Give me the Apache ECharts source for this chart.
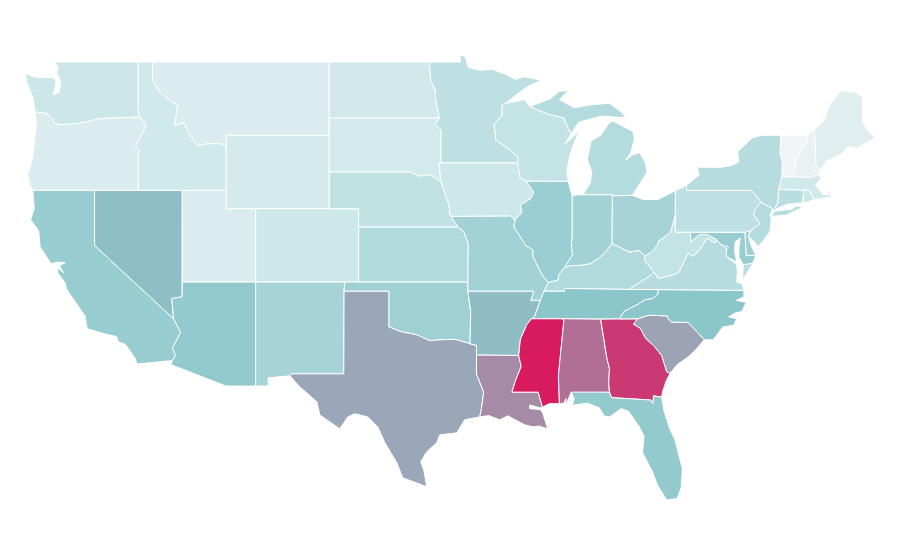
<!DOCTYPE html>
<html>
<head>
<meta charset="utf-8" />
<title>USA</title>
<script src="https://cdn.jsdelivr.net/npm/echarts@6/dist/echarts.min.js"></script>
<style>
html,body{margin:0;padding:0;background:#fff}
#main{width:900px;height:560px}
</style>
</head>
<body>
<div id="main"></div>
<script>
// values, one per state, same order
var stateNames = ['Washington','Oregon','California','Nevada','Idaho','Montana','Wyoming','Utah','Arizona','Colorado','New Mexico',
  'North Dakota','South Dakota','Nebraska','Kansas','Oklahoma','Texas','Minnesota','Iowa','Missouri','Arkansas','Louisiana',
  'Wisconsin','Illinois','Michigan','Indiana','Ohio','Kentucky','Tennessee','Mississippi','Alabama','Georgia','Florida',
  'South Carolina','North Carolina','Virginia','West Virginia','Maryland','District of Columbia','Delaware','Pennsylvania','New Jersey','New York',
  'Connecticut','Rhode Island','Massachusetts','Vermont','New Hampshire','Maine'];
var stateValues = [25,15,45,52,22,15,19,15,47,24,40,
  21,20,29,35,42,59,30,24,41,53,67,
  28,44,34,41,40,35,50,100,75,91,47,
  60,50,33,28,45,45,42,30,34,33,
  32,25,22,0,6,12];
var colorStops = ['#f3f4f6','#cbe7e8','#8bc6cb','#b26f95','#d81a5f'];

// shared borders in lon/lat, so that neighbours fit
var waCoast = [[-122.76,49],[-122.5,48.75],[-122.55,48.4],[-122.3,47.9],[-122.4,47.35],[-122.8,47.2],[-122.6,47.9],[-122.75,48.15],[-123.2,48.15],[-124,48.17],[-124.73,48.38],[-124.6,47.9],[-124.2,47.1],[-124.05,46.27]];
var columbia = [[-124.05,46.27],[-123.4,46.22],[-123.15,46.15],[-122.85,45.9],[-122.75,45.65],[-122.2,45.57],[-121.2,45.65],[-120.6,45.73],[-119.6,45.92],[-119,45.93],[-116.92,46]];
var snake = [[-116.92,46],[-116.46,45.6],[-116.85,44.95],[-117.22,44.4],[-116.95,44.2],[-117.03,43.8],[-117.03,42]];
var idMt = [[-116.05,49],[-116.05,48],[-115.7,47.45],[-114.9,46.9],[-114.35,46.65],[-114.55,45.55],[-113.95,45.7],[-113.45,44.95],[-113,44.45],[-112.3,44.55],[-111.5,44.55],[-111.05,44.47]];
var redNorth = [[-97.23,49],[-97.15,48],[-96.85,47.5],[-96.8,46.9],[-96.56,45.94]];
var sdMn = [[-96.56,45.94],[-96.85,45.6],[-96.45,45.3],[-96.45,43.5],[-96.6,43.5],[-96.45,42.49]];
var sdNe = [[-104.05,43],[-98.5,43],[-98,42.77],[-97.2,42.85],[-96.7,42.6],[-96.45,42.49]];
var neIa = [[-96.45,42.49],[-96.25,42],[-96.1,41.6],[-95.9,41.2],[-95.85,40.7],[-95.77,40.58]];
var neMo = [[-95.77,40.58],[-95.3,40]];
var moKs = [[-95.3,40],[-94.9,39.75],[-94.6,39.1],[-94.62,37]];
var superiorMn = [[-97.23,49],[-95.15,49],[-95.15,49.38],[-94.8,49.3],[-94.6,48.7],[-93.8,48.55],[-92.95,48.6],[-92,48.3],[-91.4,48.05],[-90.8,48.2],[-89.6,48],[-90.6,47.65],[-91.5,47.1],[-92.05,46.75]];
var mnWi = [[-92.05,46.75],[-92.3,46.65],[-92.3,46.1],[-92.85,45.6],[-92.75,45],[-92.75,44.75],[-91.9,44.3],[-91.25,43.85],[-91.22,43.5]];
var iaWi = [[-91.22,43.5],[-91.1,42.7],[-90.65,42.5]];
var iaIl = [[-90.65,42.5],[-90.15,41.9],[-90.35,41.55],[-91.05,41.2],[-90.95,40.8],[-91.42,40.38]];
var ilMo = [[-91.42,40.38],[-91.5,40],[-91,39.4],[-90.7,39],[-90.2,38.75],[-90.2,38.4],[-89.9,37.9],[-89.5,37.3],[-89.15,36.98]];
var wiMi = [[-90.42,46.57],[-89.1,46.13],[-88.1,45.95],[-87.8,45.35],[-87.6,45.1]];
var wiLake = [[-87.6,45.1],[-88,44.55],[-87.5,44.9],[-87.05,45.25],[-87.5,44.4],[-87.75,43.7],[-87.9,43],[-87.8,42.49]];
var ilLake = [[-87.8,42.49],[-87.6,41.85],[-87.53,41.7]];
var ilIn = [[-87.53,41.7],[-87.53,39.35],[-87.6,39],[-87.5,38.5],[-88.05,37.8]];
var ilKy = [[-88.05,37.8],[-88.45,37.4],[-88.5,37.1],[-89.15,36.98]];
var moKy = [[-89.15,36.98],[-89.45,36.5]];
var moTn = [[-89.45,36.5],[-89.7,36]];
var tnAr = [[-89.7,36],[-90.1,35.1],[-90.3,35]];
var arMs = [[-90.3,35],[-90.6,34.7],[-91.05,33.9],[-91.17,33]];
var laMs = [[-91.17,33],[-91,32.4],[-91.4,31.6],[-91.63,31],[-89.85,31],[-89.55,30.18]];
var inKy = [[-84.82,39.1],[-85.2,38.7],[-85.75,38.27],[-86.3,38],[-87,37.9],[-87.6,37.9],[-88.05,37.8]];
var ohKy = [[-82.6,38.42],[-83,38.72],[-83.65,38.63],[-84.2,38.85],[-84.82,39.1]];
var ohWv = [[-80.52,40.64],[-80.85,39.7],[-81.7,39.2],[-81.75,39],[-82.2,38.6],[-82.6,38.42]];
var kyWv = [[-82.6,38.42],[-82.6,38.17],[-81.97,37.54]];
var kyVa = [[-81.97,37.54],[-82.3,37.3],[-82.9,37],[-83.68,36.6]];
var vaWv = [[-77.72,39.32],[-77.83,39.14],[-78.35,39.4],[-78.87,38.77],[-79.3,38.42],[-79.65,38.57],[-80.3,37.52],[-80.85,37.35],[-81.68,37.2],[-81.97,37.54]];
var mdWv = [[-79.48,39.72],[-79.48,39.2],[-78.85,39.6],[-78.4,39.6],[-77.72,39.32]];
var potomac = [[-77.72,39.32],[-77.5,39.1],[-77.12,38.93],[-77.05,38.85],[-77.05,38.4]];
var paNj = [[-74.7,41.36],[-75.1,40.95],[-75.2,40.65],[-74.75,40.2],[-75.4,39.8]];
var nyNj = [[-74.7,41.36],[-73.9,41]];
var nyVt = [[-73.35,45.01],[-73.4,44],[-73.25,43.6],[-73.27,42.75]];
var nyMa = [[-73.27,42.75],[-73.5,42.05]];
var nyCt = [[-73.5,42.05],[-73.55,41.3],[-73.73,41.1],[-73.65,41]];
var vtNh = [[-71.5,45.01],[-71.6,44.5],[-72.05,44.1],[-72.3,43.7],[-72.45,43],[-72.46,42.73]];
var nhMe = [[-71.08,45.3],[-71,44.3],[-70.98,43.4],[-70.7,43.07]];
var maNorth = [[-72.46,42.73],[-71.3,42.7],[-70.82,42.87]];
var ctRi = [[-71.8,42.02],[-71.85,41.32]];
var riMa = [[-71.8,42.02],[-71.38,42.02],[-71.2,41.67],[-71.12,41.5]];
var tnNc = [[-81.68,36.59],[-81.7,36.35],[-82.05,36.1],[-82.6,36.03],[-83.1,35.77],[-84,35.4],[-84.32,34.99]];
var ncSc = [[-83.11,35],[-82.3,35.2],[-81.05,35.15],[-81.04,35.05],[-80.8,34.82],[-79.67,34.8],[-78.55,33.86]];
var gaSc = [[-83.11,35],[-83.35,34.7],[-82.9,34.48],[-82.55,33.95],[-81.95,33.5],[-81.45,33],[-81.1,32.1],[-80.88,32.03]];
var msAl = [[-88.2,35],[-88.1,34.9],[-88.47,31.9],[-88.4,30.37]];
var alGa = [[-85.6,34.98],[-85.18,32.87],[-85,32.3],[-85.05,31.5],[-85,31]];
var gaFl = [[-85,31],[-84.86,30.7],[-82.2,30.57],[-82.05,30.37],[-82,30.8],[-81.45,30.72]];
var alFl = [[-87.6,31],[-87.4,30.65],[-87.52,30.28]];
var redRiver = [[-100,34.56],[-99.2,34.3],[-98.1,34.13],[-97.2,33.8],[-96.6,33.85],[-95.5,33.88],[-94.48,33.64]];
var txAr = [[-94.48,33.64],[-94.04,33.55],[-94.04,33.02]];
var txLa = [[-94.04,33.02],[-94.04,32],[-93.55,31],[-93.7,30.1],[-93.82,29.65]];
var azCa = [[-114.72,32.72],[-114.5,33],[-114.7,33.4],[-114.15,34.25],[-114.63,35]];
var azNv = [[-114.63,35],[-114.75,36.1],[-114.05,36.2]];

function rev(a){ return a.slice().reverse(); }
function ring(){ return [].concat.apply([], arguments); }

var outlines = {
  'Washington': [ring(waCoast.slice(0,1),[[-117.04,49],[-117.04,46.42]],rev(columbia),rev(waCoast))],
  'Oregon': [ring(columbia,snake,[[-124.2,42],[-124.4,42.3],[-124.55,42.85],[-124.4,43.2],[-124.2,43.8],[-124.1,44.6],[-123.95,45.5]])],
  'California': [ring([[-124.2,42],[-120,42],[-120,39]],rev(azCa),[[-117.12,32.53],[-117.25,32.85],[-117.9,33.6],[-118.4,33.75],[-118.5,34.03],[-119.2,34.15],[-120.5,34.45],[-120.65,35.15],[-121.9,36.6],[-122,36.95],[-122.5,37.5],[-122.5,37.8],[-122.1,37.5],[-122.4,37.9],[-122,38.05],[-122.5,38.1],[-122.95,38],[-123.7,38.9],[-123.8,39.8],[-124.35,40.4],[-124.1,41]])],
  'Nevada': [ring([[-120,42],[-114.04,42]],rev(azNv),[[-120,39]])],
  'Idaho': [ring([[-117.04,49]],idMt,[[-111.05,42]],rev(snake),[[-117.04,46.42]])],
  'Montana': [ring(idMt.slice(0,1),[[-104.05,49],[-104.05,45],[-111.05,45]],rev(idMt))],
  'Wyoming': [[[-111.05,45],[-104.05,45],[-104.05,41],[-111.05,41]]],
  'Utah': [[[-114.04,42],[-111.05,42],[-111.05,41],[-109.05,41],[-109.05,37],[-114.04,37]]],
  'Arizona': [ring([[-114.04,37],[-109.05,37],[-109.05,31.33],[-111.07,31.33],[-114.8,32.5]],azCa,azNv)],
  'Colorado': [[[-109.05,41],[-102.05,41],[-102.05,37],[-109.05,37]]],
  'New Mexico': [[[-109.05,37],[-103,37],[-103.04,36.5],[-103.06,32],[-106.62,32],[-106.73,31.89],[-108.2,31.78],[-108.2,31.33],[-109.05,31.33]]],
  'North Dakota': [ring([[-104.05,49]],redNorth,[[-104.05,45.94]])],
  'South Dakota': [ring([[-104.05,45.94]],sdMn,rev(sdNe),[[-104.05,45]])],
  'Nebraska': [ring(sdNe,neIa,neMo,[[-102.05,40],[-102.05,41],[-104.05,41]])],
  'Kansas': [ring([[-102.05,40]],moKs,[[-102.05,37]])],
  'Oklahoma': [ring([[-103,37],[-94.62,37],[-94.62,36.5],[-94.43,35.4]],rev(redRiver),[[-100,36.5],[-103.04,36.5]])],
  'Texas': [ring([[-103.04,36.5],[-100,36.5]],redRiver,txAr,txLa,[[-94.84,29.49],[-95.38,28.78],[-96.54,28.67],[-96.74,28.24],[-97.42,27.75],[-97.83,27.2],[-97.63,26.77],[-97.42,25.84],[-99.05,26.33],[-99.46,27.16],[-100.27,28.25],[-100.75,29.1],[-101.43,29.65],[-102.31,29.82],[-102.79,29.65],[-103.33,29],[-104.69,29.76],[-104.89,30.47],[-106.05,31.29],[-106.73,31.89],[-106.62,32],[-103.06,32]])],
  'Minnesota': [ring(superiorMn,mnWi,[[-96.45,43.5]],rev(sdMn.slice(0,4)),rev(redNorth))],
  'Iowa': [ring([[-96.45,43.5],[-91.22,43.5]],iaWi,iaIl,[[-91.73,40.6]],rev(neIa),[[-96.6,43.5]])],
  'Missouri': [ring([[-95.77,40.58],[-91.73,40.6]],ilMo,moKy,moTn,[[-90.35,36],[-90.15,36.5],[-94.62,36.5]],rev(moKs),rev(neMo))],
  'Arkansas': [ring([[-94.62,36.5],[-90.15,36.5],[-90.35,36]],tnAr,arMs,[[-94.04,33.02]],rev(txAr),[[-94.43,35.4]])],
  'Louisiana': [ring(txLa.slice(0,1),[[-91.17,33]],laMs,[[-89.75,30.15],[-90.42,30.3],[-90.42,30.1],[-89.7,30.05],[-89.54,29.87],[-89.2,29],[-89.8,29.15],[-90.22,29.11],[-90.76,29.22],[-91.92,29.71],[-92.46,29.49],[-93.2,29.72]],rev(txLa))],
  'Wisconsin': [ring([[-92.05,46.75],[-91.2,46.87],[-90.75,46.95]],wiMi,wiLake,[[-90.65,42.5]],rev(iaWi),rev(mnWi))],
  'Illinois': [ring([[-90.65,42.5],[-87.8,42.49]],ilLake,ilIn,ilKy,rev(ilMo),rev(iaIl))],
  'Michigan': [
    ring([[-90.42,46.57],[-89,47],[-88.4,47.4],[-87.8,47.45],[-88.4,46.95],[-87.4,46.5],[-86.2,46.67],[-85,46.75],[-84.5,46.45],[-84.1,46.2],[-83.9,45.97],[-84.75,46],[-85.5,46.05],[-86.5,45.85],[-87.1,45.7]],rev(wiMi)),
    [[-86.8,41.76],[-86.3,42.4],[-86.2,43],[-86.5,43.7],[-86.25,44.7],[-85.6,45],[-85,45.7],[-84.75,45.78],[-83.4,45.2],[-83.3,44.8],[-83.55,44.05],[-83.9,43.65],[-83.4,43.95],[-82.95,44.05],[-82.55,43.5],[-82.45,43],[-82.9,42.4],[-83.15,42.1],[-83.45,41.73],[-84.8,41.7],[-84.8,41.76]]
  ],
  'Indiana': [ring(ilIn.slice(0,1),[[-87.2,41.76],[-84.8,41.76],[-84.82,39.1]],inKy.slice(1),rev(ilIn))],
  'Ohio': [ring([[-84.8,41.7],[-83.45,41.73],[-82.7,41.5],[-81.7,41.5],[-80.52,41.98]],ohWv,ohKy)],
  'Kentucky': [ring(rev(ilKy),rev(inKy),rev(ohKy),kyWv,kyVa,[[-88.05,36.65],[-88.05,36.5],[-89.45,36.5]])],
  'Tennessee': [ring([[-89.45,36.5],[-88.05,36.5],[-88.05,36.65],[-83.68,36.6]],tnNc,[[-85.6,34.98],[-88.2,35],[-90.3,35]],rev(tnAr),rev(moTn))],
  'Mississippi': [ring([[-90.3,35]],msAl,[[-89.1,30.37],[-89.55,30.18]],rev(laMs),rev(arMs))],
  'Alabama': [ring(msAl.slice(0,1),alGa,rev(alFl),[[-88,30.23],[-87.95,30.65],[-88.1,30.4]],rev(msAl))],
  'Georgia': [ring([[-85.6,34.98],[-84.32,34.99]],[[-83.11,35]],gaSc.slice(1),[[-81.15,31.6],[-81.4,31]],rev(gaFl),rev(alGa))],
  'Florida': [ring(alFl.slice(0,1),gaFl,[[-81.3,30],[-80.9,29],[-80.55,28.4],[-80.05,26.85],[-80.12,25.8],[-80.4,25.2],[-81.1,25.12],[-81.75,25.95],[-82.1,26.7],[-82.75,27.7],[-82.65,28.6],[-83,29.15],[-83.7,29.95],[-84.2,30.1],[-85,29.65],[-85.35,29.7],[-85.7,30.15],[-86.5,30.4]],rev(alFl))],
  'South Carolina': [ring(ncSc,[[-79.15,33.3],[-79.6,32.95],[-80.4,32.5]],rev(gaSc))],
  'North Carolina': [ring([[-75.87,36.55]],[[-81.68,36.59]],tnNc,ncSc,[[-77.95,33.85],[-77.3,34.55],[-76.55,34.65],[-76.35,35],[-76.9,35.1],[-76.5,35.3],[-76,35.4],[-75.7,35.9],[-76.4,36],[-75.85,36.2]])],
  'Virginia': [
    ring([[-75.87,36.55],[-75.98,36.9],[-76.35,37],[-76.3,37.55],[-76.35,37.95]],rev(potomac),vaWv,kyVa.slice(1),[[-81.68,36.59]]),
    [[-75.25,38.03],[-75.9,37.95],[-75.95,37.15],[-75.65,37.5]]
  ],
  'West Virginia': [ring([[-80.52,40.64],[-80.52,39.72]],mdWv,vaWv,rev(kyWv),rev(ohWv))],
  'Maryland': [ring(mdWv.slice(0,1),[[-75.79,39.72],[-75.7,38.46],[-75.05,38.45],[-75.25,38.03],[-75.9,37.95],[-76.2,38.35],[-76.2,38.95],[-76.1,39.4],[-76.45,39.2],[-76.5,38.7],[-76.35,38.1]],rev(potomac),rev(mdWv).slice(1))],
  'District of Columbia': [[[-77.12,38.93],[-77.04,39],[-76.91,38.89],[-77.04,38.79]]],
  'Delaware': [[[-75.79,39.72],[-75.4,39.8],[-75.55,39.5],[-75.4,39.05],[-75.05,38.45],[-75.7,38.46]]],
  'Pennsylvania': [ring([[-80.52,41.98],[-79.76,42.27],[-79.76,42],[-75.35,42],[-75.05,41.75]],paNj,[[-75.79,39.72],[-80.52,39.72]])],
  'New Jersey': [ring(nyNj,[[-74.1,40.65],[-74,40.45],[-74.1,39.75],[-74.4,39.4],[-74.9,38.93],[-75.15,39.2],[-75.55,39.5]],rev(paNj))],
  'New York': [
    ring([[-79.76,42.27],[-78.9,42.85],[-79.05,43.27],[-77.5,43.25],[-76.7,43.35],[-76.2,43.55],[-76.3,44.1],[-75.3,44.85],[-74.7,45]],nyVt,nyMa,nyCt,[[-73.9,40.85]],rev(nyNj),[[-75.05,41.75],[-75.35,42],[-79.76,42]]),
    [[-74,40.6],[-73.75,40.87],[-72.6,40.97],[-72.3,41.15],[-71.87,41.07],[-73,40.65],[-74,40.58]]
  ],
  'Connecticut': [ring(nyCt.slice(0,1),ctRi,[[-72.9,41.25]],rev(nyCt))],
  'Rhode Island': [ring(riMa,[[-71.5,41.37]],rev(ctRi))],
  'Massachusetts': [ring(rev(nyMa),maNorth,[[-70.6,42.65],[-71,42.3],[-70.65,41.95],[-70.5,41.78],[-70.05,41.78],[-70.2,42.07],[-69.95,41.9],[-69.97,41.65],[-70.6,41.55]],rev(riMa))],
  'Vermont': [ring(nyVt.slice(0,1),vtNh,rev(nyVt))],
  'New Hampshire': [ring(vtNh.slice(0,1),nhMe,[[-70.82,42.87]],rev(maNorth),rev(vtNh))],
  'Maine': [ring(nhMe.slice(0,1),[[-70.4,45.8],[-70.25,46.2],[-70,46.7],[-69.23,47.46],[-69,47.4],[-68.3,47.35],[-67.8,47.07],[-67.8,45.7],[-67.45,45.3],[-66.95,44.85],[-68.2,44.3],[-68.8,44.4],[-69.1,44.05],[-69.8,43.75],[-70.25,43.6]],rev(nhMe))]
};

var features = stateNames.map(function (name) {
  return { type: 'Feature', properties: { name: name },
    geometry: { type: 'MultiPolygon', coordinates: outlines[name].map(function (r) { return [r.concat([r[0]])]; }) } };
});
echarts.registerMap('USA', { type: 'FeatureCollection', features: features });

var myChart = echarts.init(document.getElementById('main'), null, { renderer: 'canvas' });
myChart.setOption({
  animation: false,
  backgroundColor: '#fff',
  visualMap: { show: false, min: 0, max: 100, inRange: { color: colorStops } },
  series: [{
    type: 'map',
    map: 'USA',
    aspectScale: 0.802,
    layoutCenter: [450, 277.5],
    layoutSize: 850,
    silent: true,
    label: { show: false },
    itemStyle: { borderColor: '#fff', borderWidth: 1 },
    data: stateNames.map(function (n, i) { return { name: n, value: stateValues[i] }; })
  }]
});
</script>
</body>
</html>
